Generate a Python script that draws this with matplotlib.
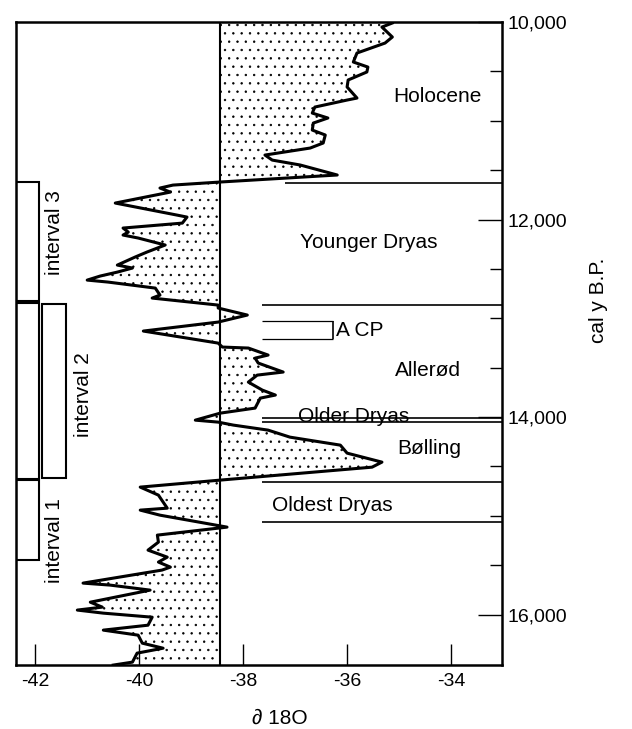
import matplotlib.pyplot as plt
from matplotlib.patches import Rectangle

plt.rcParams['font.family'] = ['Liberation Sans', 'DejaVu Sans']
plt.rcParams['hatch.linewidth'] = 0.5

# d18O record (per mil) against calendar age (cal y B.P.)
age = [10010, 10051, 10152, 10213, 10314, 10405, 10456, 10506, 10587, 10658,
       10770, 10790, 10861, 10922, 10972, 11023, 11094, 11144, 11225, 11276,
       11347, 11398, 11448, 11549, 11620,
       11651, 11681, 11722, 11833, 11955, 11975, 12036, 12086, 12127, 12157,
       12187, 12258, 12329, 12380, 12461, 12491, 12532, 12572, 12613, 12633,
       12694, 12765, 12795, 12866,
       12896, 12967, 13038, 13129, 13251, 13291, 13301, 13372, 13403, 13453,
       13544, 13575, 13646, 13727, 13777, 13808, 13909, 13960, 14031, 14051,
       14081, 14132, 14203, 14284, 14365, 14456, 14507, 14638,
       14709, 14790, 14922, 14942, 14993, 15114, 15195, 15266, 15347, 15418,
       15468, 15519, 15549, 15681, 15701, 15752, 15874, 15924, 15954, 15985,
       16026, 16107, 16157, 16208, 16289, 16340, 16390, 16481, 16511]
d18o = [-35.13, -35.33, -35.13, -35.27, -35.81, -35.88, -35.60, -35.62, -35.98, -36.00,
        -35.81, -36.00, -36.62, -36.67, -36.37, -36.65, -36.67, -36.42, -36.46, -36.71,
        -37.58, -37.44, -36.90, -36.19, -38.44,
        -39.35, -39.60, -39.40, -40.46, -39.27, -39.08, -39.17, -40.31, -40.21, -40.31,
        -40.02, -39.50, -39.85, -40.08, -40.42, -40.13, -40.42, -40.75, -41.00, -40.60,
        -39.69, -39.60, -39.75, -38.48,
        -38.48, -37.92, -38.48, -39.92, -38.48, -38.40, -37.90, -37.52, -37.77, -37.71,
        -37.23, -37.73, -37.90, -37.63, -37.38, -37.67, -37.77, -38.44, -38.92, -38.48,
        -38.19, -37.52, -37.10, -36.13, -36.00, -35.33, -35.52, -38.44,
        -39.98, -39.63, -39.46, -39.98, -39.60, -38.31, -39.65, -39.63, -39.83, -39.46,
        -39.63, -39.40, -39.56, -41.08, -40.56, -39.79, -40.94, -40.71, -41.19, -40.69,
        -39.75, -39.83, -40.69, -40.02, -39.94, -39.54, -40.04, -40.13, -40.50]
baseline = -38.45

# period boundaries (cal y B.P.)
holo_yd = 11630
bounds = [12866, 14010, 14050, 14658, 15063]
acp = [13028, 13210]

periods = ["Holocene", "Younger Dryas", "Allerød", "Older Dryas", "Bølling", "Oldest Dryas"]
period_x = [-34.27, -35.58, -34.44, -35.87, -34.42, -36.29]
period_y = [10750, 12228, 13524, 13995, 14314, 14891]

# sampling intervals: (x0, x1, top, bottom)
boxes = [(-42.37, -41.92, 11620, 12825),
         (-42.37, -41.92, 12846, 14628),
         (-41.87, -41.40, 12856, 14618),
         (-42.37, -41.92, 14638, 15448)]
interval_names = ["interval 3", "interval 2", "interval 1"]
interval_x = [-41.62, -41.08, -41.62]
interval_y = [12127, 13777, 15246]

fig = plt.figure(figsize=(6.32, 7.29), dpi=100)
ax = fig.add_axes([0.0253, 0.0878, 0.769, 0.882])

# stippled area between the curve and the reference line
ax.fill_betweenx(age, d18o, baseline, facecolor='white', edgecolor='black',
                 hatch='..', linewidth=0)
ax.plot(d18o, age, color='black', lw=2.2)
ax.axvline(baseline, color='black', lw=1.5)

ax.hlines(holo_yd, -37.19, -33.02, color='black', lw=1.2)
ax.hlines(bounds, -37.63, -33.02, color='black', lw=1.2)
ax.hlines(acp, -37.63, -36.27, color='black', lw=0.9)
ax.vlines(-36.27, acp[0], acp[1], color='black', lw=1.2)
ax.text(-36.21, 13119, "A CP", fontsize=15, va='center', ha='left')

for name, x, y in zip(periods, period_x, period_y):
    ax.text(x, y, name, fontsize=15, ha='center', va='center')

for x0, x1, top, bot in boxes:
    ax.add_patch(Rectangle((x0, top), x1 - x0, bot - top, facecolor='none',
                           edgecolor='black', lw=1.5))
for name, x, y in zip(interval_names, interval_x, interval_y):
    ax.text(x, y, name, fontsize=15, rotation=90, ha='center', va='center')

ax.set_xlim(-42.37, -33.02)
ax.set_ylim(16510, 10000)
ax.set_xticks([-42, -40, -38, -36, -34])
ax.set_xticklabels(["-42", "-40", "-38", "-36", "-34"])
ax.set_yticks([10000, 12000, 14000, 16000])
ax.set_yticklabels(["10,000", "12,000", "14,000", "16,000"])
ax.set_yticks(range(10500, 16500, 500), minor=True)
ax.yaxis.tick_right()
ax.tick_params(axis='x', direction='in', length=15, width=1, labelsize=14, pad=6)
ax.tick_params(axis='y', which='major', direction='in', length=17, width=1,
               labelsize=14, pad=4, right=True, left=False)
ax.tick_params(axis='y', which='minor', direction='in', length=8.5, width=1,
               right=True, left=False)
for s in ax.spines.values():
    s.set_linewidth(1.8)

fig.text(280 / 632, 1 - 718 / 729, "∂ 18O", fontsize=15, ha='center', va='center')
fig.text(598 / 632, 1 - 300 / 729, "cal y B.P.", fontsize=15, rotation=90,
         ha='center', va='center')

fig.savefig("out.png", dpi=100)
